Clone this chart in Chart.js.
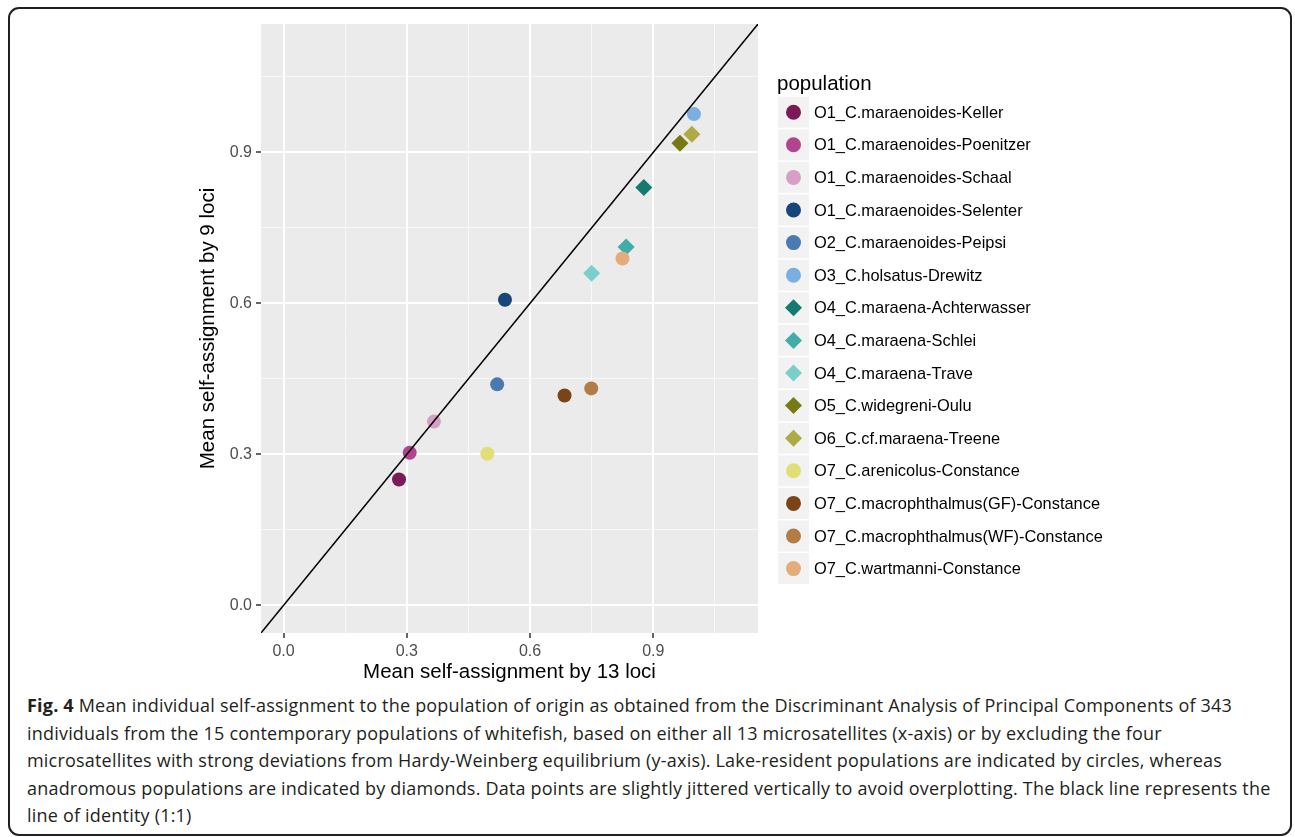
<!DOCTYPE html>
<html>
<head>
<meta charset="utf-8">
<title>Mean self-assignment</title>
<script src="https://cdn.jsdelivr.net/npm/chart.js@4.4.1/dist/chart.umd.min.js"></script>
<style>
  html, body { margin: 0; padding: 0; background: #fff; }
  body { width: 1295px; height: 837px; position: relative; overflow: hidden; }
  #frame { position: absolute; left: 8px; top: 7px; width: 1284px; height: 829px; box-sizing: border-box;
           border: 2px solid #231f20; border-radius: 11px; }
  #out { position: absolute; left: 0; top: 0; }
  #caption { position: absolute; left: 27px; top: 692px; font-family: "Open Sans", sans-serif; font-size: 18px;
             letter-spacing: 0.2px; line-height: 27.5px; color: #231f20; white-space: nowrap; }
</style>
</head>
<body>
<div id="frame"></div>
<canvas id="out" width="1295" height="690"></canvas>
<div id="caption"><b>Fig. 4</b> Mean individual self-assignment to the population of origin as obtained from the Discriminant Analysis of Principal Components of 343<br>individuals from the 15 contemporary populations of whitefish, based on either all 13 microsatellites (x-axis) or by excluding the four<br>microsatellites with strong deviations from Hardy-Weinberg equilibrium (y-axis). Lake-resident populations are indicated by circles, whereas<br>anadromous populations are indicated by diamonds. Data points are slightly jittered vertically to avoid overplotting. The black line represents the<br>line of identity (1:1)</div>
<script>
// data
const populations = [
  "O1_C.maraenoides-Keller",
  "O1_C.maraenoides-Poenitzer",
  "O1_C.maraenoides-Schaal",
  "O1_C.maraenoides-Selenter",
  "O2_C.maraenoides-Peipsi",
  "O3_C.holsatus-Drewitz",
  "O4_C.maraena-Achterwasser",
  "O4_C.maraena-Schlei",
  "O4_C.maraena-Trave",
  "O5_C.widegreni-Oulu",
  "O6_C.cf.maraena-Treene",
  "O7_C.arenicolus-Constance",
  "O7_C.macrophthalmus(GF)-Constance",
  "O7_C.macrophthalmus(WF)-Constance",
  "O7_C.wartmanni-Constance"
];
const lifeHistory = ["lake", "lake", "lake", "lake", "lake", "lake",
  "anadromous", "anadromous", "anadromous", "anadromous", "anadromous",
  "lake", "lake", "lake", "lake"];
const selfAssign13 = [0.281, 0.307, 0.366, 0.539, 0.520, 0.999, 0.877, 0.834, 0.750, 0.965, 0.994, 0.496, 0.684, 0.749, 0.825];
const selfAssign9 = [0.250, 0.303, 0.365, 0.607, 0.439, 0.976, 0.830, 0.712, 0.660, 0.918, 0.936, 0.301, 0.417, 0.431, 0.689];
const identity = [-0.1, 1.2];
const majorTicks = [0, 0.3, 0.6, 0.9];
const minorTicks = [0.15, 0.45, 0.75, 1.05];
const axisRange = [-0.055, 1.155];

const popColors = ["#7a1a57", "#b0448e", "#d5a0c4", "#18457a", "#4a7ab0", "#7bafe0",
  "#147a70", "#42aca8", "#7acfcb", "#767a14", "#aeab44",
  "#e0df75", "#7b4417", "#b17c46", "#e5ac7b"];

const fontFamily = "'Liberation Sans', Arial, Helvetica, sans-serif";
const allTicks = majorTicks.concat(minorTicks).sort((a, b) => a - b);

function isMajor(v) {
  return majorTicks.some(t => Math.abs(t - v) < 1e-9);
}

function markerPath(ctx, shape, x, y, r) {
  ctx.beginPath();
  if (shape === "lake") {
    ctx.arc(x, y, r, 0, Math.PI * 2);
  } else {
    ctx.moveTo(x - r, y);
    ctx.lineTo(x, y - r);
    ctx.lineTo(x + r, y);
    ctx.lineTo(x, y + r);
    ctx.closePath();
  }
}

const panelPlugin = {
  id: "panel",
  beforeDraw(chart) {
    const { ctx, chartArea: a } = chart;
    ctx.save();
    ctx.fillStyle = "#ebebeb";
    ctx.fillRect(a.left, a.top, a.right - a.left, a.bottom - a.top);
    ctx.restore();
  }
};

const legendPlugin = {
  id: "popLegend",
  afterDraw(chart) {
    const { ctx, chartArea: a } = chart;
    const left = a.right + 20;
    const firstTop = a.top + 72.7;
    const step = 32.6;
    const key = 31;
    ctx.save();
    ctx.fillStyle = "#000";
    ctx.font = "20.5px " + fontFamily;
    ctx.textBaseline = "alphabetic";
    ctx.textAlign = "left";
    ctx.fillText("population", left - 1, a.top + 66);
    ctx.font = "16.4px " + fontFamily;
    ctx.textBaseline = "middle";
    populations.forEach((name, i) => {
      const top = firstTop + i * step;
      const cy = top + key / 2;
      ctx.fillStyle = "#f2f2f2";
      ctx.fillRect(left, top, key, key);
      ctx.fillStyle = popColors[i];
      markerPath(ctx, lifeHistory[i], left + key / 2, cy, lifeHistory[i] === "lake" ? 7.5 : 8.5);
      ctx.fill();
      ctx.fillStyle = "#000";
      ctx.fillText(name, left + 36, cy + 1);
    });
    ctx.restore();
  }
};

function axisOptions(titleText, isY) {
  return {
    type: "linear",
    min: axisRange[0],
    max: axisRange[1],
    afterBuildTicks: scale => { scale.ticks = allTicks.map(v => ({ value: v })); },
    afterFit: scale => {
      if (isY) scale.width = 75;
      else scale.height = 57;
    },
    ticks: {
      callback: v => (isMajor(v) ? v.toFixed(1) : ""),
      color: "#4d4d4d",
      font: { family: fontFamily, size: 16 },
      padding: 4,
      autoSkip: false,
      maxRotation: 0
    },
    grid: {
      color: c => (isMajor(c.tick.value) ? "#ffffff" : "rgba(255,255,255,0.65)"),
      lineWidth: c => (isMajor(c.tick.value) ? 2 : 1),
      tickColor: c => (isMajor(c.tick.value) ? "#333333" : "rgba(0,0,0,0)"),
      tickWidth: 1.5,
      tickLength: 5,
      drawTicks: true
    },
    border: { display: false },
    title: {
      display: true,
      text: titleText,
      color: "#000",
      font: { family: fontFamily, size: 20.5 },
      padding: isY ? { top: 10, bottom: 0 } : { top: 0, bottom: 5 }
    }
  };
}

const datasets = populations.map((name, i) => ({
  label: name,
  data: [{ x: selfAssign13[i], y: selfAssign9[i] }],
  pointStyle: lifeHistory[i] === "lake" ? "circle" : "rectRot",
  pointRadius: lifeHistory[i] === "lake" ? 7 : 8.5,
  pointHoverRadius: lifeHistory[i] === "lake" ? 7 : 8.5,
  backgroundColor: popColors[i],
  borderWidth: 0,
  order: populations.length - i + 1
}));

datasets.push({
  label: "identity",
  data: identity.map(v => ({ x: v, y: v })),
  showLine: true,
  borderColor: "#000",
  borderWidth: 1.5,
  pointRadius: 0,
  pointHoverRadius: 0,
  order: 0
});

const canvasCtx = document.getElementById("out").getContext("2d");
window.chart = new Chart(canvasCtx, {
  type: "scatter",
  data: { datasets },
  options: {
    responsive: false,
    animation: false,
    layout: { padding: { left: 186, top: 24, right: 537, bottom: 0 } },
    plugins: {
      legend: { display: false },
      tooltip: { enabled: false }
    },
    scales: {
      x: axisOptions("Mean self-assignment by 13 loci", false),
      y: axisOptions("Mean self-assignment by 9 loci", true)
    }
  },
  plugins: [panelPlugin, legendPlugin]
});
</script>
</body>
</html>
